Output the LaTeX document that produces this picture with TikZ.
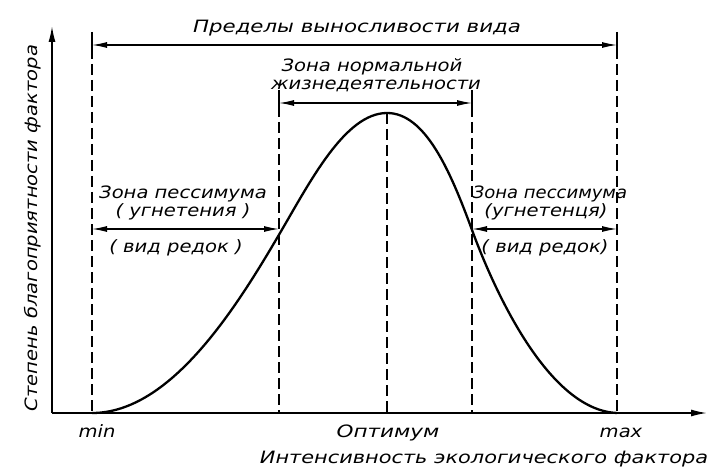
\documentclass[tikz,border=0pt]{standalone}
\usepackage{fontspec}
\setmainfont{DejaVu Sans}[FakeStretch=1.15]
\usetikzlibrary{arrows.meta}
\begin{document}
\begin{tikzpicture}[x=1pt,y=-1pt,
  lbl/.style={inner sep=0pt,anchor=base,font=\fontsize{17}{19}\selectfont\itshape},
  axis/.style={line width=1.6pt,-{Latex[length=16pt,width=7pt]}},
  dimarrow/.style={line width=1.2pt,{Latex[length=15pt,width=6pt]}-{Latex[length=15pt,width=6pt]}},
  dashline/.style={line width=1.5pt,dash pattern=on 11pt off 5pt},
  tick/.style={line width=1.5pt},
  curve/.style={line width=2.3pt}]
\useasboundingbox (0,0) rectangle (708,470);
% axes
\coordinate (O) at (52,413);
\coordinate (Ytop) at (52,26);
\coordinate (Xend) at (707,413);
\draw[axis] (O) -- (Ytop);
\draw[axis] (O) -- (Xend);
% key points
\coordinate (min) at (92,413);
\coordinate (L) at (279,413);
\coordinate (opt) at (387,413);
\coordinate (R) at (472,413);
\coordinate (max) at (617,413);
\coordinate (peak) at (387,113);
\coordinate (ta) at (92,45);
\coordinate (tb) at (617,45);
\coordinate (ma) at (279,103);
\coordinate (mb) at (472,103);
\coordinate (la) at (92,229);
\coordinate (lb) at (279,229);
\coordinate (ra) at (472,229);
\coordinate (rb) at (617,229);
% vertical lines
\draw[tick] ([yshift=-6pt]ta) -- ([yshift=9pt]ta);
\draw[tick] ([yshift=-6pt]tb) -- ([yshift=9pt]tb);
\draw[tick] ([yshift=-6pt]ma) -- ([yshift=9pt]ma);
\draw[tick] ([yshift=-6pt]mb) -- ([yshift=9pt]mb);
\draw[dashline] ([yshift=13pt]ta) -- (min);
\draw[dashline] ([yshift=13pt]tb) -- (max);
\draw[dashline] ([yshift=13pt]ma) -- (L);
\draw[dashline] ([yshift=13pt]mb) -- (R);
\draw[dashline] (peak) -- (opt);
% dimension arrows
\draw[dimarrow] (ta) -- (tb);
\draw[dimarrow] (ma) -- (mb);
\draw[dimarrow] (la) -- (lb);
\draw[dimarrow] (ra) -- (rb);
% curve
\draw[curve] (min) .. controls (170,413) and (235,310) .. (280,233)
  .. controls (310,182) and (345,113) .. (peak)
  .. controls (425,113) and (450,170) .. (472,230)
  .. controls (490,279) and (545,410) .. (max);
% labels
\node[lbl] (title) at (357,33) {\scalebox{1.09}[1]{Пределы выносливости вида}};
\node[lbl] (norm1) at (372,72) {Зона нормальной};
\node[lbl] (norm2) at (376,90) {жизнедеятельности};
\node[lbl] (lp1) at (183,198) {Зона пессимума};
\node[lbl] (lp2) at (183,216) {( угнетения )};
\node[lbl] (lp3) at (176,252) {( вид редок )};
\node[lbl] (rp1) at (550,198) {\scalebox{0.92}[1]{Зона пессимума}};
\node[lbl] (rp2) at (546,216) {(угнетенця)};
\node[lbl] (rp3) at (545,252) {( вид редок)};
\node[lbl] (minl) at (97,437) {min};
\node[lbl] (optl) at (388,437) {\scalebox{1.1}[1]{Оптимум}};
\node[lbl] (maxl) at (621,437) {max};
\node[lbl] (xlab) at (484,463) {\scalebox{1.067}[1]{Интенсивность экологического фактора}};
\node[lbl,rotate=90] (ylab) at (37,228) {Степень благоприятности фактора};
\end{tikzpicture}
\end{document}
